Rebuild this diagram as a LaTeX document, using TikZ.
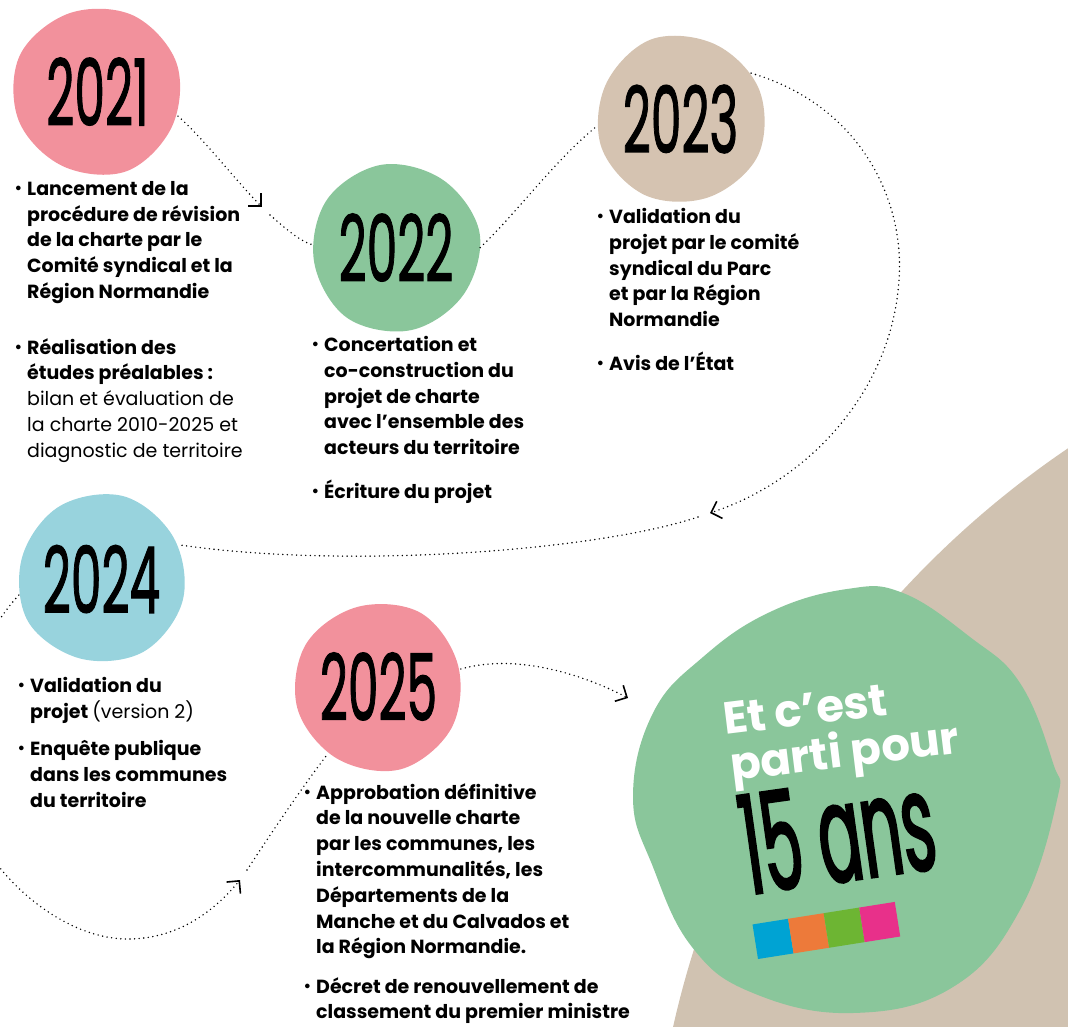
\documentclass[tikz,border=0pt]{standalone}
\usepackage{graphicx}
\usepackage{fontspec}
\setmainfont{Poppins}
\newfontfamily\chiffres{Poppins}[FakeBold=1.5]
\newfontfamily\quinze{Poppins}[FakeStretch=0.46, FakeBold=1.5]
\usetikzlibrary{arrows.meta}

\definecolor{rose}{HTML}{F2919C}
\definecolor{vert}{HTML}{8AC69B}
\definecolor{sable}{HTML}{D5C3B1}
\definecolor{bleu}{HTML}{98D3DD}
\definecolor{fond}{HTML}{D0C2B1}
\definecolor{cbleu}{HTML}{00A3D3}
\definecolor{corange}{HTML}{ED7A3A}
\definecolor{cvert}{HTML}{6DB533}
\definecolor{crose}{HTML}{E8308A}

% tache de couleur : centre, rayon, rotation, couleur
\newcommand\tache[4]{%
  \fill[#4, shift={(#1)}, rotate=#3] plot[smooth cycle, tension=0.6] coordinates
    {(0:{#2}) (45:{0.98*#2}) (90:{1.01*#2}) (135:{0.98*#2})
     (180:{#2}) (225:{1.02*#2}) (270:{0.99*#2}) (315:{1.0*#2})};}
\newcommand\puce{\llap{\raisebox{1.5pt}{\scalebox{0.8}{\textbullet}}\hspace{5pt}}}
\newcommand\an[1]{\scalebox{0.53}[1]{#1}}

\tikzset{
  annee/.style={circle, minimum size=168pt, inner sep=0pt,
    font=\chiffres\fontsize{92}{92}\selectfont},
  texte/.style={anchor=north west, inner sep=0pt, align=left,
    font=\fontsize{19}{25.8}\selectfont\bfseries,
    execute at begin node=\rule{0pt}{20pt}},
  slogan/.style={anchor=base west, inner sep=0pt, text=white,
    font=\fontsize{45}{45}\selectfont\bfseries},
  lien/.style={line width=1.6pt, dash pattern=on 0pt off 4.6pt, line cap=round},
  fleche/.style={lien, -{Straight Barb[length=9pt,width=18pt]}}
}

\begin{document}
\begin{tikzpicture}[x=1pt, y=-1pt]
	\useasboundingbox (0,0) rectangle (1068,1026);
	\clip (0,0) rectangle (1068,1026);

	% Fond
	\fill[fond] (1601,1236) circle (951);
	\fill[vert] plot[smooth cycle, tension=0.7] coordinates
	  {(847,589) (903,593) (970,637) (1020,683) (1053,763) (1057,800) (1020,910)
	   (953,987) (853,1013) (753,993) (692,947) (653,867) (633,797) (653,713)
	   (703,657) (770,612)};

	% Liens
	\coordinate (f1) at (262,207); \coordinate (r1) at (270,215);
	\coordinate (f3) at (710,513); \coordinate (r3) at (698,517);
	\coordinate (f4) at (240,880); \coordinate (r4) at (247,870);
	\coordinate (f5) at (628,698);

	% Taches {2021, 2022, 2023, 2024, 2025}
	\tache{97.5,91.5}{84}{20}{rose}
	\tache{396,247.5}{84}{100}{vert}
	\tache{680.5,119}{84}{200}{sable}
	\tache{101.5,579}{84}{300}{bleu}
	\tache{378.5,686.5}{84}{150}{rose}

	\node [annee] (y2021) at (97.5,91.5)  {\an{2021}};
	\node [annee] (y2022) at (396,247.5)  {\an{2022}};
	\node [annee] (y2023) at (680.5,119)  {\an{2023}};
	\node [annee] (y2024) at (101.5,579)  {\an{2024}};
	\node [annee] (y2025) at (378.5,686.5) {\an{2025}};

	% Chemins
	\draw [fleche] (y2021.-17) .. controls (205,140) and (235,180) .. (f1);
	\draw [lien]   (r1) .. controls (285,228) and (298,240) .. (y2022.178);
	\draw [lien]   (y2022.0) .. controls (515,215) and (555,160) .. (y2023.185);
	\draw [fleche] (y2023.33) .. controls (860,105) and (905,200) .. (899,280)
	               .. controls (892,390) and (810,480) .. (f3);
	\draw [lien]   (r3) .. controls (600,550) and (350,570) .. (y2024.24);
	\draw [fleche] (y2024.191) .. controls (-60,680) and (-40,820) .. (0,868)
	               .. controls (30,905) and (80,940) .. (130,939)
	               .. controls (180,938) and (215,910) .. (f4);
	\draw [lien]   (r4) .. controls (270,835) and (300,790) .. (y2025.233);
	\draw [fleche] (y2025.12) .. controls (520,652) and (590,678) .. (f5);

	% Textes
	\node [texte] (t21a) at (27,181) {\puce Lancement de la\\procédure de révision\\de la charte par le\\Comité syndical et la\\Région Normandie};
	\node [texte] (t21b) at (27,338) {\puce Réalisation des\\études préalables~:\\\mdseries bilan et évaluation de\\\mdseries la charte 2010-2025 et\\\mdseries diagnostic de territoire};
	\node [texte] (t22a) at (324,336) {\puce Concertation et\\co-construction du\\projet de charte\\avec l’ensemble des\\acteurs du territoire};
	\node [texte] (t22b) at (324,478) {\puce Écriture du projet};
	\node [texte] (t23a) at (609,208) {\puce Validation du\\projet par le comité\\syndical du Parc\\et par la Région\\Normandie};
	\node [texte] (t23b) at (609,350) {\puce Avis de l’État};
	\node [texte] (t24a) at (30,677) {\puce Validation du\\projet {\mdseries(version 2)}};
	\node [texte] (t24b) at (30,740) {\puce Enquête publique\\dans les communes\\du territoire};
	\node [texte] (t25a) at (316,783) {\puce Approbation définitive\\de la nouvelle charte\\par les communes, les\\intercommunalités, les\\Départements de la\\Manche et du Calvados et\\la Région Normandie.};
	\node [texte] (t25b) at (316,977) {\puce Décret de renouvellement de\\classement du premier ministre};

	% 15 ans
	\node [slogan, rotate=7] (etc)   at (725,735) {Et c’est};
	\node [slogan, rotate=7] (parti) at (732,781) {parti pour};
	\node [anchor=base west, inner sep=0pt, rotate=8,
	       font=\quinze\fontsize{138}{138}\selectfont] (ans) at (748,895) {15 ans};
	\begin{scope}[shift={(758,959)}, rotate=9]
		\foreach \c [count=\i from 0] in {cbleu,corange,cvert,crose}
			\fill[\c] (\i*36,0) rectangle ({(\i+1)*36},-35);
	\end{scope}
\end{tikzpicture}
\end{document}
